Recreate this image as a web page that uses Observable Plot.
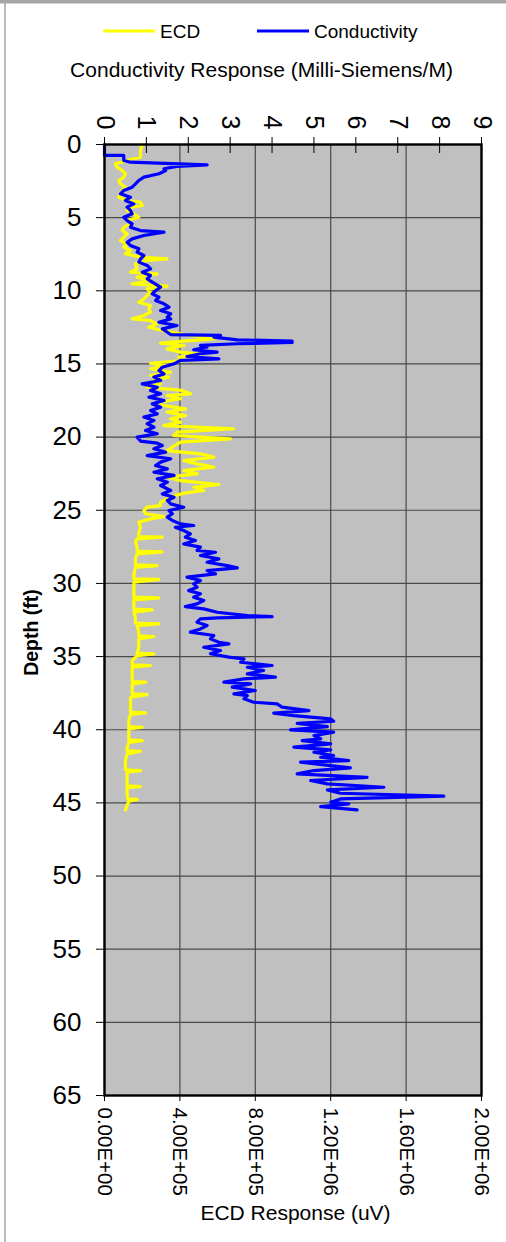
<!DOCTYPE html>
<html><head><meta charset="utf-8">
<script src="https://cdn.jsdelivr.net/npm/d3@7"></script>
<script src="https://cdn.jsdelivr.net/npm/@observablehq/plot@0.6"></script>
<style>
html,body{margin:0;padding:0;background:#fff;overflow:hidden;}
#chart svg{display:block;}
</style></head>
<body><div id="chart"></div>
<script>
// ---- Conductivity (Milli-Siemens/M) vs depth (ft)
const condDepth = [0,0.75,0.75,1.09,1.21,1.39,1.50,1.66,1.78,2.00,2.23,2.46,2.69,2.92,3.14,3.37,3.60,3.83,4.06,4.28,4.51,4.74,4.97,5.20,5.42,5.65,5.88,5.99,6.22,6.45,6.68,6.90,7.13,7.36,7.59,7.82,8.04,8.27,8.50,8.73,8.95,9.18,9.41,9.75,9.98,10.21,10.44,10.66,10.89,11.12,11.35,11.57,11.80,11.92,12.15,12.37,12.60,12.83,12.99,13.05,13.17,13.35,13.44,13.53,13.62,13.73,13.84,14.03,14.19,14.30,14.49,14.65,14.76,14.99,15.22,15.45,15.68,15.90,16.13,16.36,16.59,16.81,17.04,17.27,17.50,17.73,17.95,18.18,18.41,18.63,18.86,19.09,19.32,19.55,19.77,20.00,20.27,20.41,20.57,20.80,21.03,21.26,21.48,21.71,21.94,22.17,22.40,22.62,22.85,23.08,23.31,23.65,23.88,24.11,24.33,24.56,24.79,25.02,25.24,25.47,25.70,25.93,26.04,26.16,26.38,26.61,26.84,27.07,27.30,27.52,27.75,27.87,28.09,28.32,28.55,28.78,28.94,29.12,29.35,29.57,29.80,30.03,30.26,30.49,30.71,30.94,31.17,31.40,31.58,31.74,31.97,32.20,32.27,32.35,32.42,32.65,32.88,33.11,33.33,33.56,33.79,34.02,34.13,34.36,34.59,34.81,35.04,35.16,35.39,35.61,35.73,35.95,36.18,36.41,36.52,36.75,36.87,37.09,37.32,37.55,37.67,37.89,38.12,38.23,38.46,38.69,38.87,39.03,39.26,39.42,39.56,39.79,40.01,40.17,40.40,40.62,40.74,40.97,41.19,41.38,41.54,41.76,41.88,42.11,42.22,42.45,42.61,42.79,43.02,43.25,43.47,43.70,43.93,44.11,44.34,44.54,44.73,44.95,45.07,45.25,45.48];
const condValue = [0,0,0.46,0.46,0.62,2.45,1.73,1.42,1.46,1.30,0.94,0.82,0.74,0.66,0.46,0.38,0.62,0.50,0.70,0.54,0.62,0.66,0.46,0.54,0.66,0.62,0.86,1.42,0.94,0.66,0.54,0.62,0.82,0.78,0.94,0.86,0.82,1.02,1.10,0.90,1.10,1.02,1.14,1.34,1.22,1.14,1.30,1.22,1.42,1.54,1.34,1.58,1.50,1.58,1.30,1.73,1.38,1.50,1.58,2.77,2.61,3.17,4.48,4.48,3.17,2.29,2.45,2.13,2.69,2.29,1.97,2.73,1.81,1.66,1.38,1.30,1.42,1.18,1.34,0.90,1.26,1.10,1.34,1.06,1.42,1.14,1.34,1.10,1.26,0.94,1.18,1.02,1.18,0.98,1.26,0.78,0.86,1.26,1.38,1.18,1.46,1.02,1.58,1.34,1.22,1.50,1.18,1.66,1.26,1.50,1.34,1.58,1.38,1.66,1.50,1.58,1.89,1.54,1.62,1.50,1.62,1.81,2.13,1.69,1.89,2.05,1.93,2.17,1.89,2.29,2.21,2.65,2.29,2.73,2.45,2.93,3.17,2.45,2.65,1.97,2.29,2.13,2.21,2.01,2.29,2.13,2.37,2.21,1.93,2.37,2.69,3.41,4.00,2.69,2.29,2.21,2.45,2.29,2.05,2.61,2.53,2.73,2.97,2.37,2.77,2.53,2.97,3.33,3.25,4.00,3.41,3.80,3.41,4.08,3.33,2.85,3.49,3.05,3.60,3.09,3.41,3.33,3.56,4.12,4.24,4.88,4.04,4.52,5.40,5.47,4.60,5.32,4.44,5.47,5.00,5.16,4.72,5.40,4.52,5.40,5.00,5.47,5.16,5.83,4.68,5.40,5.87,5.00,4.60,6.27,4.92,5.32,6.67,5.32,5.63,8.10,5.63,5.40,5.83,5.16,6.03];

// ---- ECD response (uV) vs depth (ft)
const ecdDepth = [0,0.41,0.87,1.09,1.32,1.55,1.78,2.00,2.23,2.46,2.69,2.92,3.14,3.37,3.60,3.83,3.94,4.17,4.28,4.51,4.74,4.97,5.20,5.42,5.65,5.88,6.11,6.33,6.56,6.79,7.02,7.25,7.47,7.70,7.82,7.93,8.16,8.50,8.73,8.84,9.07,9.30,9.52,9.68,9.87,10.09,10.32,10.55,10.78,11.00,11.23,11.46,11.69,11.92,12.03,12.26,12.49,12.71,12.94,13.28,13.44,13.58,13.74,13.97,14.19,14.35,14.53,14.76,14.95,15.11,15.33,15.56,15.79,15.90,16.13,16.36,16.59,16.81,17.04,17.16,17.38,17.61,17.84,18.07,18.29,18.52,18.75,18.98,19.21,19.43,19.66,19.89,20.12,20.34,20.69,20.92,21.14,21.37,21.60,21.83,22.05,22.28,22.51,22.74,22.97,23.24,23.43,23.65,23.83,23.99,24.22,24.45,24.68,24.79,25.02,25.24,25.43,25.59,25.81,26.16,26.50,26.80,26.84,26.95,27.18,27.52,27.79,27.84,27.98,28.32,28.73,28.78,28.90,29.35,29.69,29.73,29.92,30.26,30.94,30.99,31.12,31.51,31.76,31.81,31.97,32.31,32.71,32.76,32.88,33.33,33.58,33.63,33.79,34.36,34.77,34.81,34.93,35.27,35.57,35.61,35.73,36.18,36.71,36.75,36.87,37.32,37.55,37.60,37.78,38.35,38.80,38.85,38.96,39.37,39.78,39.83,39.94,40.29,40.70,40.74,40.86,41.20,41.43,41.47,41.65,42.11,42.56,42.74,42.79,42.90,43.47,43.84,43.88,43.97,44.38,44.72,44.76,44.88,45.17,45.48];
const ecdValue = [200000,191000,191000,120000,58000,67000,94000,111000,103000,76000,85000,111000,94000,85000,76000,120000,191000,200000,147000,120000,156000,182000,120000,138000,103000,94000,120000,103000,85000,120000,103000,138000,111000,191000,332000,226000,164000,173000,138000,279000,173000,244000,147000,332000,226000,244000,226000,209000,182000,244000,235000,244000,209000,147000,244000,279000,235000,306000,403000,580000,421000,297000,421000,332000,403000,509000,394000,421000,244000,332000,244000,350000,244000,341000,262000,297000,226000,412000,456000,332000,403000,288000,315000,430000,332000,430000,350000,403000,315000,686000,385000,368000,668000,403000,359000,332000,509000,580000,421000,492000,580000,421000,492000,332000,403000,607000,474000,527000,421000,377000,332000,297000,297000,226000,209000,218000,315000,244000,182000,191000,182000,182000,306000,173000,164000,173000,173000,306000,173000,164000,164000,279000,164000,156000,156000,288000,156000,156000,156000,288000,156000,156000,156000,253000,156000,164000,164000,288000,173000,182000,182000,262000,182000,182000,173000,262000,173000,147000,147000,244000,147000,147000,147000,218000,147000,147000,147000,226000,138000,138000,138000,218000,138000,129000,129000,200000,129000,129000,129000,200000,129000,120000,120000,191000,120000,111000,111000,111000,191000,120000,120000,120000,191000,120000,120000,124000,173000,129000,120000,111000];

// ---- axes
const depthTicks = [0,5,10,15,20,25,30,35,40,45,50,55,60,65];
const condTicks = [0,1,2,3,4,5,6,7,8,9];
const ecdTicks = [0,400000,800000,1200000,1600000,2000000];
const ecdTickLabels = ["0.00E+00","4.00E+05","8.00E+05","1.20E+06","1.60E+06","2.00E+06"];
const seriesNames = ["ECD", "Conductivity"];
const seriesColors = ["#ffff00", "#0000ff"];
const COND_MAX = 9, ECD_MAX = 2000000, DEPTH_MAX = 65;

const cond = condDepth.map((d, i) => ({depth: d, value: condValue[i]}));
const ecd = ecdDepth.map((d, i) => ({depth: d, value: ecdValue[i]}));
const condToX = c => c * ECD_MAX / COND_MAX;

const FONT = "'Liberation Sans', Arial, Helvetica, sans-serif";

const plot = Plot.plot({
  width: 506, height: 1242,
  marginTop: 144, marginLeft: 104, marginRight: 25, marginBottom: 147,
  style: {fontFamily: FONT, background: "white", color: "black", overflow: "visible"},
  x: {domain: [0, ECD_MAX], axis: null},
  y: {domain: [0, DEPTH_MAX], reverse: true, axis: null},
  marks: [
    Plot.frame({fill: "#c0c0c0"}),
    Plot.gridX(ecdTicks, {stroke: "#4a4a4a", strokeOpacity: 1, strokeWidth: 1.2}),
    Plot.gridY(depthTicks, {stroke: "#4a4a4a", strokeOpacity: 1, strokeWidth: 1.2}),
    Plot.line(ecd, {x: "value", y: "depth", stroke: seriesColors[0], strokeWidth: 3.2}),
    Plot.line(cond, {x: d => condToX(d.value), y: "depth", stroke: seriesColors[1], strokeWidth: 3.2}),
    Plot.frame({stroke: "black", strokeWidth: 2.4}),
    // tick marks
    Plot.axisY({ticks: depthTicks, anchor: "left", tickSize: 8, fill: "none", label: null}),
    Plot.axisX({ticks: condTicks.map(condToX), anchor: "top", tickSize: 16, dy: 8, fill: "none", label: null}),
    Plot.axisX({ticks: ecdTicks, anchor: "bottom", tickSize: 6, fill: "none", label: null}),
    // tick labels
    Plot.text(depthTicks, {y: d => d, text: d => String(d), frameAnchor: "left", dx: -23,
      textAnchor: "end", lineAnchor: "middle", fontSize: 26}),
    Plot.text(condTicks, {x: d => condToX(d), text: d => String(d), frameAnchor: "top", dy: -22,
      rotate: 90, textAnchor: "middle", lineAnchor: "middle", fontSize: 25}),
    Plot.text(ecdTicks, {x: d => d, text: (d, i) => ecdTickLabels[i], frameAnchor: "bottom", dy: 12,
      rotate: 90, textAnchor: "start", lineAnchor: "middle", fontSize: 20.5}),
    // axis titles
    Plot.text(["ECD Response (uV)"], {frameAnchor: "bottom", dx: 2.5, dy: 118,
      textAnchor: "middle", lineAnchor: "middle", fontSize: 21}),
    Plot.text(["Conductivity Response (Milli-Siemens/M)"], {frameAnchor: "top", dx: -31.5, dy: -74.5,
      textAnchor: "middle", lineAnchor: "middle", fontSize: 21}),
    Plot.text(["Depth (ft)"], {frameAnchor: "left", dx: -73, dy: 12.5, rotate: -90,
      textAnchor: "middle", lineAnchor: "middle", fontSize: 19.5, fontWeight: "bold"})
  ]
});

document.getElementById("chart").appendChild(plot);

// outer chart-area border and legend
const svg = d3.select(plot);
const deco = svg.append("g");
deco.append("rect").attr("x", 0).attr("y", 0).attr("width", 506).attr("height", 3.5).attr("fill", "#a6a6a6");
deco.append("line").attr("x1", 5).attr("x2", 5).attr("y1", 0).attr("y2", 1242)
  .attr("stroke", "#a6a6a6").attr("stroke-width", 1.5);

const legendX = [103, 257];
const lg = svg.append("g")
  .style("font-family", FONT).style("font-size", "19px").attr("text-anchor", "start");
seriesNames.forEach((name, i) => {
  const x = legendX[i];
  lg.append("line").attr("x1", x).attr("x2", x + 52).attr("y1", 31).attr("y2", 31)
    .attr("stroke", seriesColors[i]).attr("stroke-width", 3);
  lg.append("text").attr("x", x + 57).attr("y", 38.3).attr("fill", "black")
    .attr("text-anchor", "start").text(name);
});
</script>
</body></html>
